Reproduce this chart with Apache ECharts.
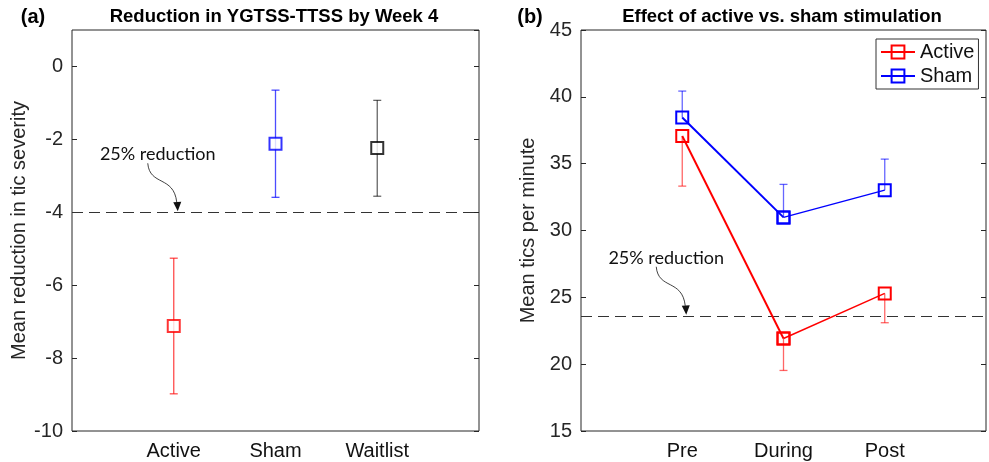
<!DOCTYPE html>
<html><head><meta charset="utf-8">
<script src="https://cdn.jsdelivr.net/npm/echarts@6/dist/echarts.min.js"></script>
<style>html,body{margin:0;padding:0;background:#fff}#c{width:989px;height:462px}</style>
</head><body><div id="c"></div>
<script>
// ---- Panel (a) data ----
const catsA = ['Active', 'Sham', 'Waitlist'];
const meanA = [-7.12, -2.12, -2.24];
const lowA  = [-8.98, -3.59, -3.56];
const highA = [-5.26, -0.65, -0.93];
const thresholdA = -4;
const ticksA = { min: -10, max: 1, interval: 2 };

// ---- Panel (b) data ----
const catsB = ['Pre', 'During', 'Post'];
const activeB = [37.07, 21.92, 25.29];
const activeLowB = [33.32, 19.53, 23.10];
const shamB = [38.46, 30.98, 33.02];
const shamHighB = [40.43, 33.45, 35.34];
const thresholdB = 23.62;
const ticksB = { min: 15, max: 45, interval: 5 };

const FONT = '"Liberation Sans", Arial, Helvetica, sans-serif';
const AX = '#262626';
const colA = ['#ff0000', '#0000ff', '#000000'];
const errColA = ['rgba(255,0,0,0.7)', 'rgba(0,0,255,0.7)', 'rgba(0,0,0,0.6)'];

const chart = echarts.init(document.getElementById('c'), null, { renderer: 'canvas' });

function errRender(color, both) {
  return function (params, api) {
    const x = api.value(0);
    const p1 = api.coord([x, api.value(1)]);
    const p2 = api.coord([x, api.value(2)]);
    const cw = 4;
    const st = { stroke: color, lineWidth: 1.3 };
    const children = [
      { type: 'line', shape: { x1: p1[0], y1: p1[1], x2: p2[0], y2: p2[1] }, style: st },
      { type: 'line', shape: { x1: p2[0] - cw, y1: p2[1], x2: p2[0] + cw, y2: p2[1] }, style: st }
    ];
    if (both) children.push({ type: 'line', shape: { x1: p1[0] - cw, y1: p1[1], x2: p1[0] + cw, y2: p1[1] }, style: st });
    return { type: 'group', children };
  };
}

function yAxisCommon(grid, t, name, labels) {
  return {
    gridIndex: grid, type: 'value', min: t.min, max: t.max, interval: t.interval,
    position: labels ? 'left' : 'right',
    axisLine: { show: false },
    axisTick: { show: true, inside: true, length: 5, lineStyle: { color: AX } },
    splitLine: { show: false },
    axisLabel: labels ? { show: true, showMaxLabel: t.max % t.interval === 0, margin: 9, fontSize: 20, color: AX, fontFamily: FONT } : { show: false },
    name: labels ? name : '', nameLocation: 'middle', nameGap: 43, nameRotate: 90,
    nameTextStyle: { fontSize: 20, color: AX, fontFamily: FONT }
  };
}
function xAxisCommon(grid, cats) {
  return {
    gridIndex: grid, type: 'value', min: 0, max: 4, interval: 1,
    axisLine: { show: false }, axisTick: { show: false }, splitLine: { show: false },
    axisLabel: { margin: 10, fontSize: 20, color: '#111', fontFamily: FONT,
      formatter: v => cats[v - 1] || '' }
  };
}

const series = [];
// panel a: error bars + markers
catsA.forEach((c, i) => {
  series.push({
    type: 'custom', xAxisIndex: 0, yAxisIndex: 0, z: 2,
    renderItem: errRender(errColA[i], true),
    data: [[i + 1, lowA[i], highA[i]]]
  });
  series.push({
    type: 'scatter', xAxisIndex: 0, yAxisIndex: 0, z: 5, symbol: 'rect', symbolSize: 12,
    itemStyle: { color: '#fff', borderColor: colA[i], borderWidth: 2 },
    data: [[i + 1, meanA[i]]]
  });
});
series[0].markLine = {
  silent: true, symbol: 'none', label: { show: false },
  lineStyle: { color: '#333', width: 1, type: [11, 6] },
  data: [{ yAxis: thresholdA }]
};

// panel b
function lineSeries(name, color, vals, from, to, width) {
  const d = [];
  for (let i = from; i <= to; i++) d.push([i + 1, vals[i]]);
  return {
    type: 'line', name, xAxisIndex: 1, yAxisIndex: 2, z: 5,
    symbol: 'rect', symbolSize: 12, showSymbol: true,
    itemStyle: { color: 'rgba(255,255,255,0)', borderColor: color, borderWidth: 2 },
    lineStyle: { color, width },
    data: d
  };
}
series.push({
  type: 'custom', xAxisIndex: 1, yAxisIndex: 2, z: 2,
  renderItem: errRender('rgba(255,0,0,0.6)', false),
  data: activeB.map((v, i) => [i + 1, v, activeLowB[i]]),
  markLine: {
    silent: true, symbol: 'none', label: { show: false },
    lineStyle: { color: '#333', width: 1, type: [11, 6] },
    data: [{ yAxis: thresholdB }]
  }
});
series.push({
  type: 'custom', xAxisIndex: 1, yAxisIndex: 2, z: 2,
  renderItem: errRender('rgba(0,0,255,0.6)', false),
  data: shamB.map((v, i) => [i + 1, v, shamHighB[i]])
});
series.push(lineSeries('Active', '#ff0000', activeB, 0, 1, 2));
series.push(lineSeries('Active', '#ff0000', activeB, 1, 2, 1.4));
series.push(lineSeries('Sham', '#0000ff', shamB, 0, 1, 2));
series.push(lineSeries('Sham', '#0000ff', shamB, 1, 2, 1.4));

chart.setOption({
  animation: false,
  backgroundColor: '#fff',
  grid: [
    { left: 72, top: 30, width: 407, height: 401, show: true, borderColor: AX, borderWidth: 1, backgroundColor: 'transparent' },
    { left: 581, top: 30, width: 405, height: 401, show: true, borderColor: AX, borderWidth: 1, backgroundColor: 'transparent' }
  ],
  xAxis: [xAxisCommon(0, catsA), xAxisCommon(1, catsB)],
  yAxis: [
    yAxisCommon(0, ticksA, 'Mean reduction in tic severity', true),
    yAxisCommon(0, ticksA, '', false),
    yAxisCommon(1, ticksB, 'Mean tics per minute', true),
    yAxisCommon(1, ticksB, '', false)
  ],
  legend: {
    data: ['Active', 'Sham'], orient: 'vertical', left: 876, top: 39,
    borderColor: '#333', borderWidth: 1, padding: [3, 4, 3, 4], itemGap: 4,
    itemWidth: 34, itemHeight: 16,
    textStyle: { fontSize: 20, color: '#111', fontFamily: FONT }
  },
  series
});

// annotations (titles, panel labels, curved arrows)
function arrowGroup(tip) {
  const tx = tip[0] + 4, ty = tip[1] - 1;
  return [
    { type: 'text', x: tx - 20, y: ty - 57, style: { text: '25% reduction', fontSize: 18, fontFamily: 'Lato, "Open Sans", sans-serif', fill: '#111', align: 'center', verticalAlign: 'middle' }, z: 10 },
    { type: 'bezierCurve', shape: { x1: tx - 30, y1: ty - 48, cpx1: tx - 28, cpy1: ty - 25, cpx2: tx - 4, cpy2: ty - 36, x2: tx - 1, y2: ty - 9 }, style: { stroke: '#111', lineWidth: 0.8, fill: null }, z: 10 },
    { type: 'polygon', shape: { points: [[tx, ty], [tx - 4.5, ty - 9], [tx + 3.5, ty - 9.5]] }, style: { fill: '#111' }, z: 10 }
  ];
}
const tipA = chart.convertToPixel({ gridIndex: 0 }, [1, thresholdA]);
const tipB = chart.convertToPixel({ gridIndex: 1 }, [1, thresholdB]);
const titleStyle = { fontSize: 18.5, fontWeight: 'bold', fontFamily: FONT, fill: '#000', align: 'center', verticalAlign: 'middle' };
chart.setOption({
  graphic: [
    { type: 'text', x: 274, y: 17, style: Object.assign({}, titleStyle, { text: 'Reduction in YGTSS-TTSS by Week 4' }) },
    { type: 'text', x: 782, y: 17, style: Object.assign({}, titleStyle, { text: 'Effect of active vs. sham stimulation' }) },
    { type: 'text', x: 33, y: 17, style: Object.assign({}, titleStyle, { text: '(a)', fontSize: 20 }) },
    { type: 'text', x: 530, y: 17, style: Object.assign({}, titleStyle, { text: '(b)', fontSize: 20 }) }
  ].concat(arrowGroup(tipA), arrowGroup(tipB))
});
</script></body></html>
